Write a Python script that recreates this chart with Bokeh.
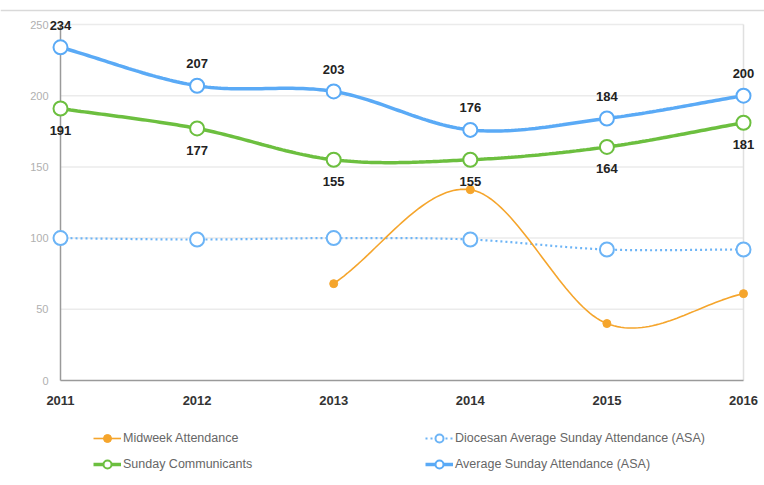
import numpy as np
from bokeh.plotting import figure
from bokeh.models import ColumnDataSource, Legend, LegendItem, Range1d, LabelSet, Span
from bokeh.embed import file_html
from bokeh.resources import INLINE
from bokeh.core.properties import value

# ---- data ----
years = [2011, 2012, 2013, 2014, 2015, 2016]
year_labels = ["2011", "2012", "2013", "2014", "2015", "2016"]
asa = [234, 207, 203, 176, 184, 200]
communicants = [191, 177, 155, 155, 164, 181]
diocesan = [100, 99, 100, 99, 92, 92]
midweek_years = [2013, 2014, 2015, 2016]
midweek = [68, 134, 40, 61]
y_ticks = [0, 50, 100, 150, 200, 250]
y_tick_labels = ["0", "50", "100", "150", "200", "250"]

BLUE = "#5aaaf6"
GREEN = "#6cbf3f"
ORANGE = "#f5a52c"
DOTBLUE = "#6cb4f6"
FONT = "Liberation Sans"


def smooth(xs, ys, n=40):
    """Cubic Hermite (Catmull-Rom style) curve through the data points."""
    xs = np.asarray(xs, float)
    ys = np.asarray(ys, float)
    k = len(xs)
    m = np.zeros(k)
    for i in range(k):
        if i == 0:
            m[i] = (ys[1] - ys[0]) / (xs[1] - xs[0])
        elif i == k - 1:
            m[i] = (ys[-1] - ys[-2]) / (xs[-1] - xs[-2])
        else:
            m[i] = (ys[i + 1] - ys[i - 1]) / (xs[i + 1] - xs[i - 1])
    ox, oy = [], []
    for i in range(k - 1):
        dx = xs[i + 1] - xs[i]
        t = np.linspace(0, 1, n, endpoint=(i == k - 2))
        h00 = 2 * t**3 - 3 * t**2 + 1
        h10 = t**3 - 2 * t**2 + t
        h01 = -2 * t**3 + 3 * t**2
        h11 = t**3 - t**2
        ox.extend(xs[i] + t * dx)
        oy.extend(h00 * ys[i] + h10 * dx * m[i] + h01 * ys[i + 1] + h11 * dx * m[i + 1])
    return ox, oy


# layout (pixels)
W, H = 764, 477
PX_X = 136.6          # pixels per year
PX_Y = 1.424          # pixels per attendance unit
PAD_L, PAD_R, PAD_T, PAD_B = 60, 21, 24, 97

p = figure(width=W, height=H, output_backend="svg", toolbar_location=None,
           x_range=Range1d(years[0] - PAD_L / PX_X, years[-1] + PAD_R / PX_X),
           y_range=Range1d(y_ticks[0] - PAD_B / PX_Y, y_ticks[-1] + PAD_T / PX_Y),
           min_border=0)
p.outline_line_color = None
p.xgrid.visible = False
p.ygrid.visible = False
p.xaxis.visible = False
p.yaxis.visible = False

# container border at the top
p.add_layout(Span(location=y_ticks[-1] + (PAD_T - 10) / PX_Y, dimension="width",
                  line_color="#d9d9d9", line_width=1.5))

# grid lines and frame
for t in y_ticks[1:]:
    p.segment(x0=years[0], x1=years[-1], y0=t, y1=t, line_color="#ebebeb", line_width=1.5)
p.segment(x0=years[-1], x1=years[-1], y0=y_ticks[0], y1=y_ticks[-1], line_color="#e0e0e0", line_width=1.5)
p.segment(x0=years[0], x1=years[0], y0=y_ticks[0], y1=y_ticks[-1], line_color="#9a9a9a", line_width=1.5)
p.segment(x0=years[0], x1=years[-1], y0=y_ticks[0], y1=y_ticks[0], line_color="#9a9a9a", line_width=1.5)

# y tick labels
p.add_layout(LabelSet(x="x", y="y", text="t",
                      source=ColumnDataSource(dict(x=[years[0]] * len(y_ticks), y=y_ticks, t=y_tick_labels)),
                      x_offset=-12, text_align="right", text_baseline="middle",
                      text_font=value(FONT), text_font_size="11px", text_color="#b0b0b0"))

# x tick labels
p.add_layout(LabelSet(x="x", y="y", text="t",
                      source=ColumnDataSource(dict(x=years, y=[y_ticks[0]] * len(years), t=year_labels)),
                      y_offset=-20, text_align="center", text_baseline="middle",
                      text_font=value(FONT), text_font_style="bold",
                      text_font_size="13px", text_color="#333333"))

# series
dx, dy = smooth(years, diocesan)
r_dio_l = p.line(dx, dy, line_color=DOTBLUE, line_width=2.2, line_dash="2 3")
r_dio_s = p.scatter(years, diocesan, size=14, fill_color="white", line_color=DOTBLUE, line_width=2)

mx, my = smooth(midweek_years, midweek)
r_mid_l = p.line(mx, my, line_color=ORANGE, line_width=1.6)
r_mid_s = p.scatter(midweek_years, midweek, size=8, fill_color=ORANGE, line_color=ORANGE)

cx, cy = smooth(years, communicants)
r_com_l = p.line(cx, cy, line_color=GREEN, line_width=3.5)
r_com_s = p.scatter(years, communicants, size=14, fill_color="white", line_color=GREEN, line_width=2)

ax, ay = smooth(years, asa)
r_asa_l = p.line(ax, ay, line_color=BLUE, line_width=3.5)
r_asa_s = p.scatter(years, asa, size=14, fill_color="white", line_color=BLUE, line_width=2)

# data labels
src_asa = ColumnDataSource(dict(x=years, y=asa, t=[str(v) for v in asa]))
src_com = ColumnDataSource(dict(x=years, y=communicants, t=[str(v) for v in communicants]))
for src, off in ((src_asa, 22), (src_com, -22)):
    p.add_layout(LabelSet(x="x", y="y", text="t", source=src, y_offset=off,
                          text_align="center", text_baseline="middle",
                          text_font=value(FONT), text_font_style="bold",
                          text_font_size="13px", text_color="#222222"))

# legends
def mk_legend(items, x):
    return Legend(items=items, location=(x, 3), orientation="vertical",
                  glyph_width=28, glyph_height=20, label_height=20, spacing=6,
                  label_standoff=2, padding=0, margin=0,
                  border_line_color=None, background_fill_alpha=0,
                  label_text_font=FONT, label_text_font_size="12.5px",
                  label_text_color="#666666")

leg1 = mk_legend([LegendItem(label="Midweek Attendance", renderers=[r_mid_l, r_mid_s]),
                  LegendItem(label="Sunday Communicants", renderers=[r_com_l, r_com_s])], 93)
leg2 = mk_legend([LegendItem(label="Diocesan Average Sunday Attendance (ASA)", renderers=[r_dio_l, r_dio_s]),
                  LegendItem(label="Average Sunday Attendance (ASA)", renderers=[r_asa_l, r_asa_s])], 425)
p.add_layout(leg1)
p.add_layout(leg2)

open("out.html", "w").write(file_html(p, INLINE))
